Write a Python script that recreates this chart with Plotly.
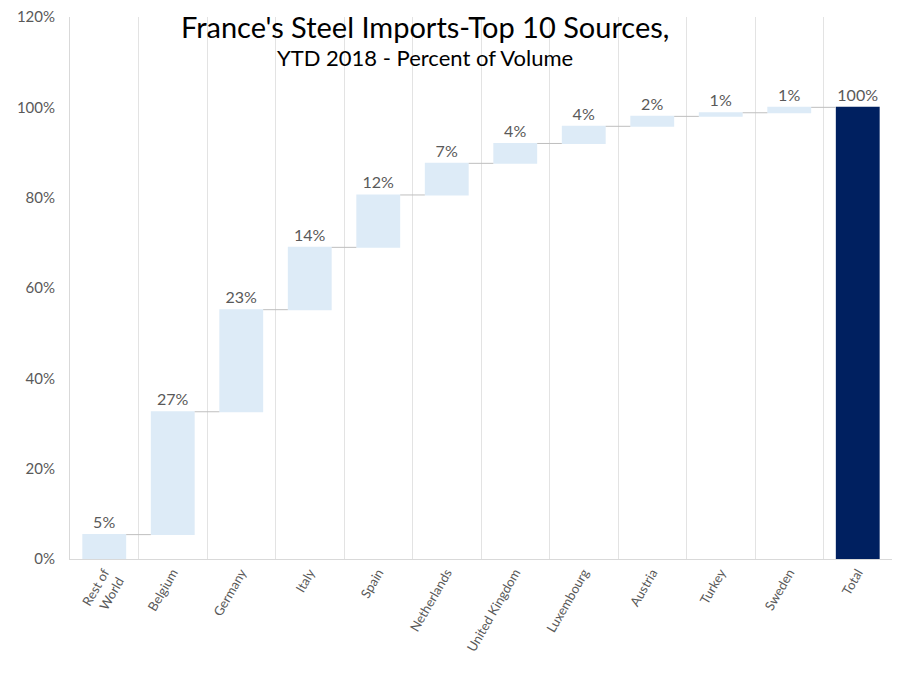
import plotly.graph_objects as go

categories = ["Rest of<br>World", "Belgium", "Germany", "Italy", "Spain", "Netherlands",
              "United Kingdom", "Luxembourg", "Austria", "Turkey", "Sweden", "Total"]
shares = [5.4, 27.2, 22.6, 13.8, 11.6, 7.0, 4.4, 3.8, 2.2, 0.8, 1.2]
total_share = 100
y_ticks = [0, 20, 40, 60, 80, 100, 120]
y_tick_labels = ["0%", "20%", "40%", "60%", "80%", "100%", "120%"]

values = shares + [total_share]
measures = ["relative"] * len(shares) + ["total"]
labels = [f"{round(v)}%" for v in values]

FONT = "Lato, Open Sans, sans-serif"

fig = go.Figure(go.Waterfall(
    x=categories,
    y=values,
    measure=measures,
    text=labels,
    textposition="outside",
    textfont=dict(family=FONT, size=16, color="#595959"),
    increasing=dict(marker=dict(color="#DDEBF7", line=dict(width=0))),
    decreasing=dict(marker=dict(color="#DDEBF7", line=dict(width=0))),
    totals=dict(marker=dict(color="#002060", line=dict(width=0))),
    connector=dict(mode="between", line=dict(color="#BFBFBF", width=1)),
    cliponaxis=False,
    showlegend=False,
))

fig.update_layout(
    width=901, height=675,
    margin=dict(l=62, r=17, t=9, b=124),
    paper_bgcolor="white", plot_bgcolor="white",
    waterfallgap=0.36,
    font=dict(family=FONT, color="#595959"),
    annotations=[
        dict(text="France's Steel Imports-Top 10 Sources,", xref="paper", yref="paper",
             x=0.432, y=0.982, showarrow=False, xanchor="center", yanchor="middle",
             borderpad=0,
             font=dict(family=FONT, size=29, color="#000000")),
        dict(text="YTD 2018 - Percent of Volume", xref="paper", yref="paper",
             x=0.432, y=0.925, showarrow=False, xanchor="center", yanchor="middle",
             borderpad=0,
             font=dict(family=FONT, size=22, color="#000000")),
    ],
)

fig.update_xaxes(
    type="category",
    tickson="boundaries",
    ticks="",
    automargin=False,
    showgrid=True, gridcolor="#E3E3E3", gridwidth=1,
    showline=True, linecolor="#D9D9D9", linewidth=1,
    tickangle=-60,
    tickfont=dict(size=13, color="#595959"),
)
fig.update_yaxes(
    range=[0, 120],
    tickvals=y_ticks,
    ticktext=y_tick_labels,
    automargin=False,
    ticklabeloverflow="allow",
    showgrid=False,
    zeroline=False,
    showline=True, linecolor="#D9D9D9", linewidth=1,
    ticks="",
    ticklabelstandoff=11,
    tickfont=dict(size=15, color="#595959"),
)

fig.write_html("out.html")
